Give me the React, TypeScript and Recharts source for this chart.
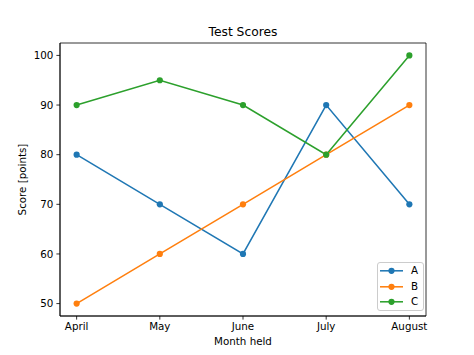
import { LineChart, Line, XAxis, YAxis, ReferenceArea } from 'recharts'

// Test scores per month
const months = ['April', 'May', 'June', 'July', 'August']
const scoresA = [80, 70, 60, 90, 70]
const scoresB = [50, 60, 70, 80, 90]
const scoresC = [90, 95, 90, 80, 100]
const yTicks = [50, 60, 70, 80, 90, 100]
const xTicks = [0, 1, 2, 3, 4]

const series = [
  { key: 'A', color: '#1f77b4' },
  { key: 'B', color: '#ff7f0e' },
  { key: 'C', color: '#2ca02c' },
]

const data = months.map((m, i) => ({
  idx: i,
  month: m,
  A: scoresA[i],
  B: scoresB[i],
  C: scoresC[i],
}))

const FONT = '"DejaVu Sans", sans-serif'
const tickStyle = { fontSize: 10.3, fill: '#000', fontFamily: FONT }

function LegendBox() {
  return (
    <div
      style={{
        position: 'absolute',
        left: 377,
        top: 262,
        width: 45,
        height: 47,
        border: '1px solid #cccccc',
        borderRadius: 3,
        background: 'rgba(255,255,255,0.8)',
        fontFamily: FONT,
        fontSize: 10.3,
        color: '#000',
      }}
    >
      {series.map((s, i) => (
        <div
          key={s.key}
          style={{ position: 'absolute', left: 0, top: i * 15.6, height: 15.6, width: 45 }}
        >
          <svg width={28} height={15.6} style={{ position: 'absolute', left: 0, top: 0 }}>
            <line x1={2} x2={25} y1={7.8} y2={7.8} stroke={s.color} strokeWidth={1.54} />
            <circle cx={13.5} cy={7.8} r={3.1} fill={s.color} />
          </svg>
          <span style={{ position: 'absolute', left: 33, top: 0, lineHeight: '15.6px' }}>{s.key}</span>
        </div>
      ))}
    </div>
  )
}

export default function App() {
  return (
    <div style={{ position: 'absolute', left: 0, top: 0, width: 474, height: 355, background: '#fff' }}>
      <div
        style={{
          position: 'absolute',
          left: 60,
          width: 366,
          top: 24,
          textAlign: 'center',
          fontFamily: FONT,
          fontSize: 12.3,
          lineHeight: '16px',
          color: '#000',
        }}
      >
        Test Scores
      </div>
      <LineChart
        width={474}
        height={355}
        data={data}
        margin={{ top: 43, right: 48, bottom: 0, left: 0 }}
      >
        <XAxis
          dataKey="idx"
          type="number"
          domain={[-0.2, 4.2]}
          ticks={xTicks}
          tickFormatter={(v: number) => months[v]}
          height={39}
          tick={tickStyle}
          tickSize={3.6}
          tickMargin={3}
          stroke="#000"
          axisLine={{ stroke: '#000', strokeWidth: 0.8 }}
          tickLine={{ stroke: '#000', strokeWidth: 0.8 }}
          allowDataOverflow
          label={{ value: 'Month held', position: 'insideBottom', offset: 10, style: tickStyle }}
        />
        <YAxis
          type="number"
          domain={[47.5, 102.5]}
          ticks={yTicks}
          width={60}
          tick={tickStyle}
          tickSize={3.6}
          tickMargin={3}
          stroke="#000"
          axisLine={{ stroke: '#000', strokeWidth: 0.8 }}
          tickLine={{ stroke: '#000', strokeWidth: 0.8 }}
          allowDataOverflow
          label={{
            value: 'Score [points]',
            angle: -90,
            position: 'insideLeft',
            offset: 22,
            style: { ...tickStyle, textAnchor: 'middle' },
          }}
        />
        <ReferenceArea
          x1={-0.2}
          x2={4.2}
          y1={47.5}
          y2={102.5}
          fill="none"
          fillOpacity={0}
          stroke="#000"
          strokeWidth={0.8}
        />
        {series.map(s => (
          <Line
            key={s.key}
            dataKey={s.key}
            type="linear"
            stroke={s.color}
            strokeWidth={1.54}
            dot={{ r: 3.1, fill: s.color, stroke: s.color, strokeWidth: 0 }}
            activeDot={false}
            isAnimationActive={false}
          />
        ))}
      </LineChart>
      <LegendBox />
    </div>
  )
}
